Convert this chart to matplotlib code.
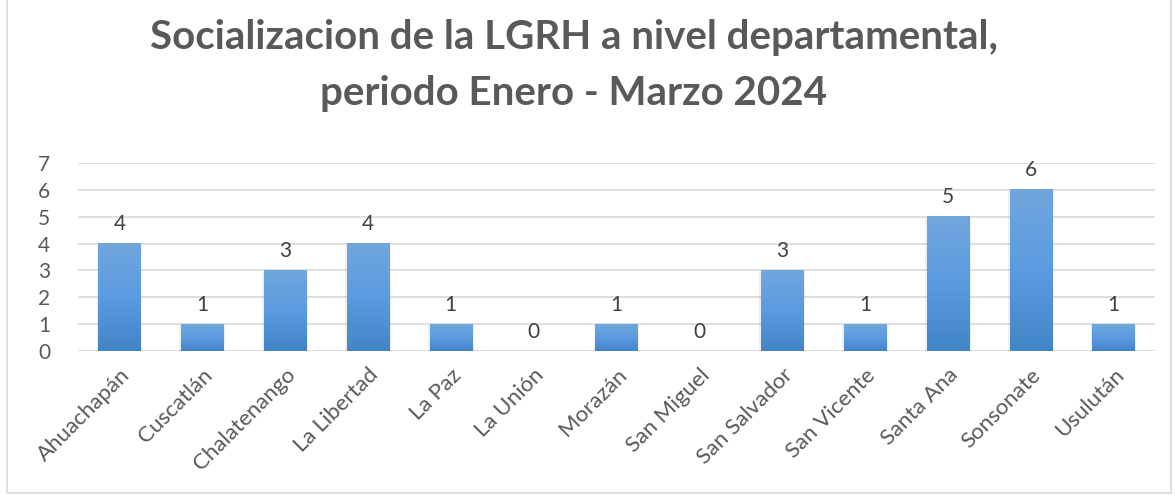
import matplotlib.pyplot as plt
import numpy as np
from matplotlib.patches import Rectangle
from matplotlib.colors import LinearSegmentedColormap

plt.rcParams['font.family'] = ['Lato', 'DejaVu Sans']

departamentos = ['Ahuachapán', 'Cuscatlán', 'Chalatenango', 'La Libertad', 'La Paz',
                 'La Unión', 'Morazán', 'San Miguel', 'San Salvador', 'San Vicente',
                 'Santa Ana', 'Sonsonate', 'Usulután']
socializaciones = [4, 1, 3, 4, 1, 0, 1, 0, 3, 1, 5, 6, 1]

gray = '#595959'
fig = plt.figure(figsize=(11.75, 4.96), dpi=100)
ax = fig.add_axes([78 / 1175, 1 - 351 / 496, (1155 - 78) / 1175, (351 - 163) / 496])

# figure border
fig.patches.append(Rectangle((7 / 1175, 3 / 496), 1164 / 1175, 1.2, transform=fig.transFigure,
                             fill=False, edgecolor='#d9d9d9', linewidth=1.2))

x = np.arange(len(departamentos))
w = 0.51
grad = np.linspace(0, 1, 100).reshape(-1, 1)
cmap = LinearSegmentedColormap.from_list('g', ['#4285c6', '#5b9be0', '#70a7dc'])

for xi, v in zip(x, socializaciones):
    if v > 0:
        # soft shadow
        ax.bar(xi, v, w + 0.04, bottom=-0.04, color='#000000', alpha=0.06, zorder=2)
        ax.imshow(grad, extent=(xi - w / 2, xi + w / 2, 0, v), origin='lower', cmap=cmap,
                  aspect='auto', zorder=3)
    ax.text(xi, v + 0.35, str(v), ha='center', va='bottom', fontsize=15, color='#404040')

ax.set_xlim(-0.5, len(departamentos) - 0.5)
ax.set_ylim(0, 7)
ax.set_yticks(range(8))
ax.yaxis.grid(True, color='#d9d9d9', linewidth=1.2)
ax.set_axisbelow(True)
for s in ax.spines.values():
    s.set_visible(False)
ax.tick_params(length=0, labelsize=15, labelcolor=gray)
ax.tick_params(axis='y', pad=20)
ax.set_xticks(x)
ax.set_xticklabels(departamentos, rotation=45, ha='right', va='top', rotation_mode='anchor',
                   fontsize=16)
ax.tick_params(axis='x', pad=10)

fig.text(574 / 1175, 1 - 38 / 496, 'Socializacion de la LGRH a nivel departamental,',
         ha='center', va='center', fontsize=29, fontweight='bold', color=gray)
fig.text(574 / 1175, 1 - 93 / 496, 'periodo Enero - Marzo 2024',
         ha='center', va='center', fontsize=29, fontweight='bold', color=gray)

fig.savefig('out.png', dpi=100)
